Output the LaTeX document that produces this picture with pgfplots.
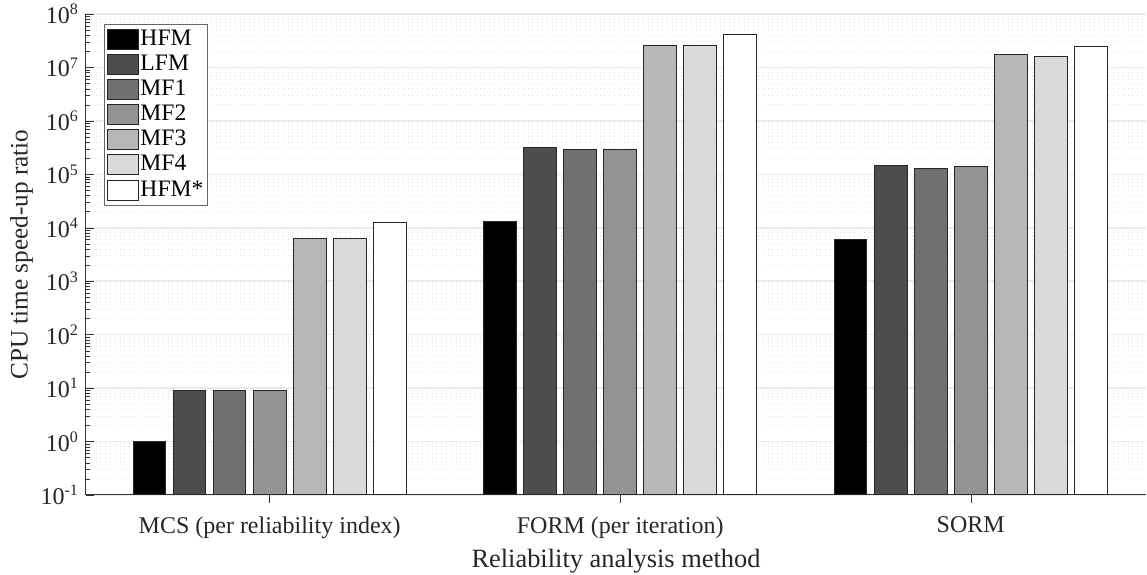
\documentclass[border=0pt]{standalone}
\usepackage{pgfplots}
\pgfplotsset{compat=1.18}
\usepackage{fontspec}
\setmainfont{Liberation Serif}
\usetikzlibrary{calc}
\definecolor{cLFM}{HTML}{4D4D4D}
\definecolor{cMFa}{HTML}{707070}
\definecolor{cMFb}{HTML}{939393}
\definecolor{cMFc}{HTML}{B7B7B7}
\definecolor{cMFd}{HTML}{DADADA}
\begin{document}
\begin{tikzpicture}
\begin{axis}[
  scale only axis,
  width=530pt, height=240.5pt,
  ymode=log, log origin=infty,
  ymin=0.1, ymax=1e8,
  xmin=0.476, xmax=3.5,
  axis x line*=bottom, axis y line*=left,
  axis line style={black!80, line width=0.5pt},
  xtick={1,2,3},
  xticklabels={MCS (per reliability index), FORM (per iteration), SORM},
  ytick={1e-1,1e0,1e1,1e2,1e3,1e4,1e5,1e6,1e7,1e8},
  yticklabels={10\textsuperscript{-1},10\textsuperscript{0},10\textsuperscript{1},10\textsuperscript{2},10\textsuperscript{3},10\textsuperscript{4},10\textsuperscript{5},10\textsuperscript{6},10\textsuperscript{7},10\textsuperscript{8}},
  tick align=inside,
  major tick length=4pt, minor tick length=2pt,
  x tick style={yshift=-4pt, black!80},
  y tick style={black!80},
  xminorticks=false,
  tick label style={font=\fontsize{12}{14}\selectfont, text=black!85},
  xticklabel style={yshift=-7.5pt},
  label style={font=\fontsize{13.2}{15}\selectfont, text=black!85},
  xlabel={Reliability analysis method},
  ylabel={CPU time speed-up ratio},
  xlabel style={yshift=1.5pt},
  ylabel style={yshift=-3pt, font=\fontsize{12.6}{14}\selectfont},
  ymajorgrids, yminorgrids,
  major grid style={black!8, line width=0.8pt},
  minor grid style={black!12, dotted, line width=0.5pt},
  legend style={at={(0,1)}, anchor=north west, xshift=9pt, yshift=-5pt,
    draw=black!60, line width=0.5pt, font=\fontsize{11.8}{13}\selectfont,
    inner sep=1.5pt, row sep=0.55pt,
    nodes={inner sep=0.5pt, text height=8.5pt, text depth=2.5pt}},
  legend cell align=left,
  legend image code/.code={\draw[#1, bar shift=0pt] (0pt,-5pt) rectangle (15.5pt,5pt);},
  every axis plot/.append style={ybar, bar width=0.0933, bar shift=0pt, draw=black!85, line width=0.5pt},
]
\addplot[fill=black] coordinates {(0.6574,1) (1.6574,13000) (2.6574,5920)};
\addplot[fill=cLFM] coordinates {(0.7716,9) (1.7716,3.12e5) (2.7716,1.44e5)};
\addplot[fill=cMFa] coordinates {(0.8858,9) (1.8858,2.95e5) (2.8858,1.30e5)};
\addplot[fill=cMFb] coordinates {(1.0,9) (2.0,2.95e5) (3.0,1.39e5)};
\addplot[fill=cMFc] coordinates {(1.1142,6370) (2.1142,2.6e7) (3.1142,1.74e7)};
\addplot[fill=cMFd] coordinates {(1.2284,6370) (2.2284,2.6e7) (3.2284,1.57e7)};
\addplot[fill=white] coordinates {(1.3426,12500) (2.3426,4.19e7) (3.3426,2.5e7)};
\legend{HFM,LFM,MF1,MF2,MF3,MF4,HFM*}
\end{axis}
\pgfresetboundingbox
\path[use as bounding box] ($(current axis.south west)+(-43pt,-40pt)$) rectangle ($(current axis.north east)+(0.5pt,7pt)$);
\end{tikzpicture}
\end{document}
